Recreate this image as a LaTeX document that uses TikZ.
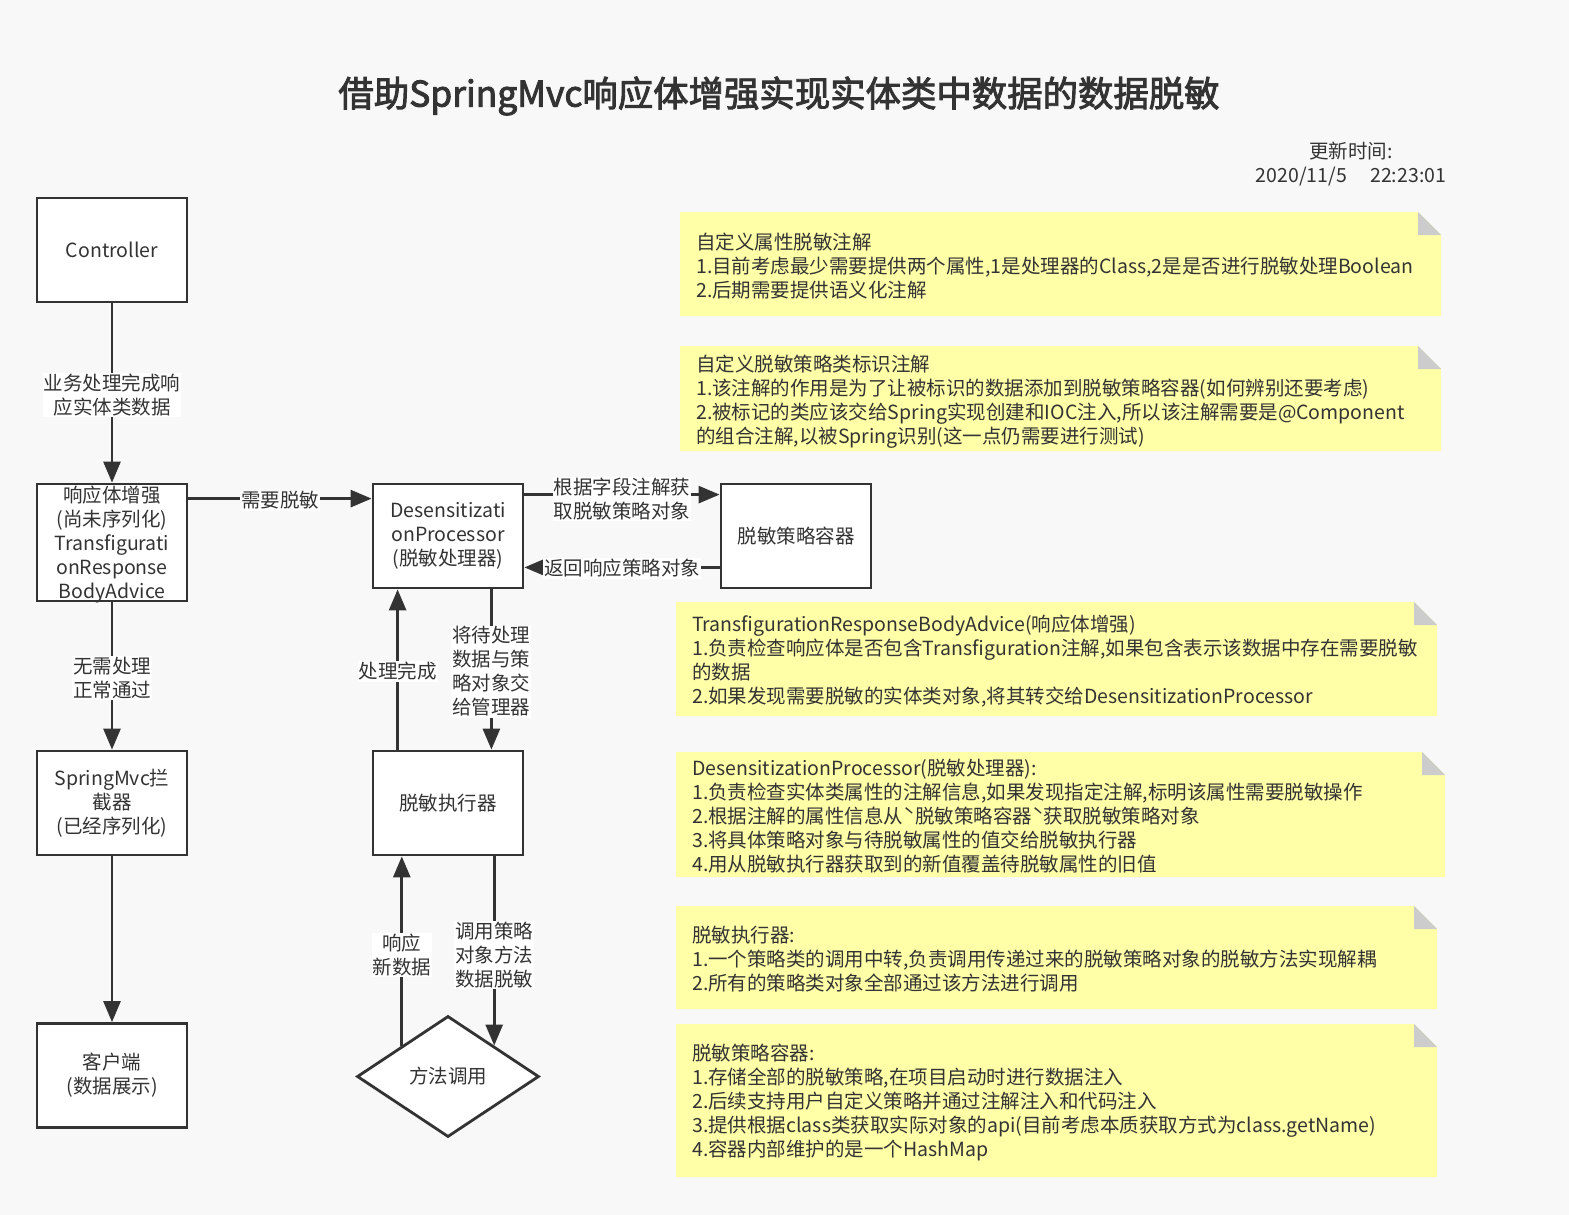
\documentclass[tikz,border=0pt]{standalone}
\usepackage{fontspec}
\setmainfont{Noto Sans CJK SC}
\newfontfamily\titlefont[FakeBold=2.5]{Noto Sans CJK SC}
\usetikzlibrary{arrows.meta,shapes.geometric}
\definecolor{bg}{HTML}{F8F8F8}
\definecolor{ink}{HTML}{333333}
\definecolor{notey}{HTML}{FFFFA8}
\definecolor{foldc}{HTML}{CCCCCC}
\newcommand{\drawnote}[4]{%
  \fill[notey] (#1,#2) -- ({#3-23},#2) -- (#3,{#2+23}) -- (#3,#4) -- (#1,#4) -- cycle;
  \fill[foldc] ({#3-23},#2) -- ({#3-23},{#2+23}) -- (#3,{#2+23}) -- cycle;}
\begin{document}
\begin{tikzpicture}[x=1pt,y=-1pt,
  every node/.style={text=ink},
  txt/.style={font=\fontsize{19.5}{24}\selectfont},
  box/.style={draw=ink, line width=2.8pt, fill=white, minimum width=150pt, minimum height=104pt, inner sep=0pt, align=center, txt},
  arr/.style={draw=ink, line width=2.8pt, -{Triangle[length=21pt,width=17pt]}},
  lbl/.style={fill=white, inner sep=1pt, align=center, txt},
  notetxt/.style={anchor=north west, inner sep=0pt, align=left, txt},
]
\fill[bg] (0,0) rectangle (1569,1215);
\useasboundingbox (0,0) rectangle (1569,1215);

% title and time
\node[font=\titlefont\fontsize{35.4}{40}\selectfont] (title) at (779,96) {借助SpringMvc响应体增强实现实体类中数据的数据脱敏};
\node[txt, align=center] (time) at (1351,164) {更新时间:\\2020/11/5\hspace{1.2em}22:23:01};

% boxes
\node[box] (ctrl) at (112,250) {\raisebox{-2pt}{Controller}};
\node[box, minimum height=117pt] (adv) at (112,542.5) {};
\node[txt, align=center, inner sep=0pt] (advt) at (112,545) {响应体增强\\(尚未序列化)\\Transfigurati\\onResponse\\BodyAdvice};
\node[box] (smvc) at (112,803) {SpringMvc拦\\截器\\(已经序列化)};
\node[box] (client) at (112,1075.5) {客户端\\(数据展示)};
\node[box] (des) at (448,536) {Desensitizati\\onProcessor\\(脱敏处理器)};
\node[box] (cont) at (796,536) {脱敏策略容器};
\node[box] (exec) at (448,803) {脱敏执行器};
\node[draw=ink, line width=2.8pt, fill=white, shape=diamond, aspect=1.5, minimum width=182pt, minimum height=121pt, inner sep=0pt, txt] (dia) at (448,1076.5) {方法调用};

% connectors
\draw[arr] (ctrl.south) -- node[lbl, yshift=-2pt] {业务处理完成响\\应实体类数据} (adv.north);
\draw[arr] ([yshift=-16pt]adv.north east) -- node[lbl, yshift=-2pt] {需要脱敏} ([yshift=-16pt]des.north west);
\draw[arr] ([yshift=-12pt]des.north east) -- node[lbl, yshift=-4pt] {根据字段注解获\\取脱敏策略对象} ([yshift=-12pt]cont.north west);
\draw[arr] ([yshift=22pt]cont.south west) -- node[lbl, yshift=-1pt] {返回响应策略对象} ([yshift=22pt]des.south east);
\draw[arr] (adv.south) -- node[lbl, yshift=-2pt] {无需处理\\正常通过} (smvc.north);
\draw[arr] (smvc.south) -- (client.north);
\draw[arr] ([xshift=26pt]exec.north west) -- node[lbl, yshift=-2pt] {处理完成} ([xshift=26pt]des.south west);
\draw[arr] ([xshift=-33pt]des.south east) -- node[lbl, yshift=-2pt] {将待处理\\数据与策\\略对象交\\给管理器} ([xshift=-33pt]exec.north east);
\draw[arr] (dia.north east |- exec.south) -- node[lbl, yshift=-4pt] {调用策略\\对象方法\\数据脱敏} (dia.north east);
\draw[arr] (dia.north west) -- node[lbl, yshift=-4pt] {响应\\新数据} (dia.north west |- exec.south);

% notes
\drawnote{680}{212}{1441}{316}
\node[notetxt] (n1) at (696,233) {自定义属性脱敏注解\\1.目前考虑最少需要提供两个属性,1是处理器的Class,2是是否进行脱敏处理Boolean\\2.后期需要提供语义化注解};
\drawnote{680}{346}{1441}{451}
\node[notetxt] (n2) at (696,355) {自定义脱敏策略类标识注解\\1.该注解的作用是为了让被标识的数据添加到脱敏策略容器(如何辨别还要考虑)\\2.被标记的类应该交给Spring实现创建和IOC注入,所以该注解需要是@Component\\的组合注解,以被Spring识别(这一点仍需要进行测试)};
\drawnote{676}{602}{1437}{716}
\node[notetxt] (n3) at (692,615) {TransfigurationResponseBodyAdvice(响应体增强)\\1.负责检查响应体是否包含Transfiguration注解,如果包含表示该数据中存在需要脱敏\\的数据\\2.如果发现需要脱敏的实体类对象,将其转交给DesensitizationProcessor};
\drawnote{676}{752}{1445}{877}
\node[notetxt] (n4) at (692,759) {DesensitizationProcessor(脱敏处理器):\\1.负责检查实体类属性的注解信息,如果发现指定注解,标明该属性需要脱敏操作\\2.根据注解的属性信息从ˋ脱敏策略容器ˋ获取脱敏策略对象\\3.将具体策略对象与待脱敏属性的值交给脱敏执行器\\4.用从脱敏执行器获取到的新值覆盖待脱敏属性的旧值};
\drawnote{676}{906}{1437}{1009}
\node[notetxt] (n5) at (692,926) {脱敏执行器:\\1.一个策略类的调用中转,负责调用传递过来的脱敏策略对象的脱敏方法实现解耦\\2.所有的策略类对象全部通过该方法进行调用};
\drawnote{676}{1024}{1437}{1177}
\node[notetxt] (n6) at (692,1044) {脱敏策略容器:\\1.存储全部的脱敏策略,在项目启动时进行数据注入\\2.后续支持用户自定义策略并通过注解注入和代码注入\\3.提供根据class类获取实际对象的api(目前考虑本质获取方式为class.getName)\\4.容器内部维护的是一个HashMap};
\end{tikzpicture}
\end{document}
